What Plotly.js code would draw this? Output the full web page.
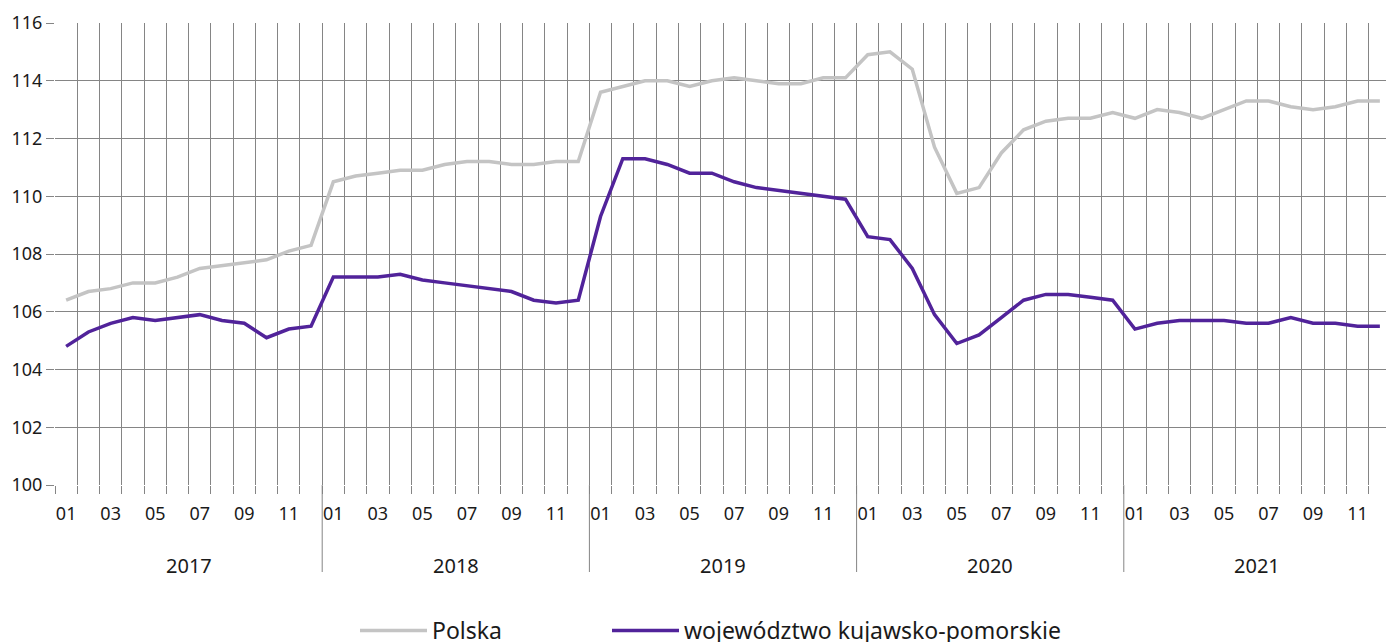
<!DOCTYPE html>
<html><head><meta charset="utf-8">
<script src="https://cdn.plot.ly/plotly-3.0.1.min.js"></script>
<style>html,body{margin:0;padding:0;overflow:hidden;background:#fff}#chart{width:1392px;height:680px}</style>
</head><body><div id="chart"></div><script>
const years = ["2017","2018","2019","2020","2021"];
const monthLabels = ["01","02","03","04","05","06","07","08","09","10","11","12"];
const polska = [
 106.4,106.7,106.8,107.0,107.0,107.2,107.5,107.6,107.7,107.8,108.1,108.3,
 110.5,110.7,110.8,110.9,110.9,111.1,111.2,111.2,111.1,111.1,111.2,111.2,
 113.6,113.8,114.0,114.0,113.8,114.0,114.1,114.0,113.9,113.9,114.1,114.1,
 114.9,115.0,114.4,111.7,110.1,110.3,111.5,112.3,112.6,112.7,112.7,112.9,
 112.7,113.0,112.9,112.7,113.0,113.3,113.3,113.1,113.0,113.1,113.3,113.3];
const kujawsko = [
 104.8,105.3,105.6,105.8,105.7,105.8,105.9,105.7,105.6,105.1,105.4,105.5,
 107.2,107.2,107.2,107.3,107.1,107.0,106.9,106.8,106.7,106.4,106.3,106.4,
 109.3,111.3,111.3,111.1,110.8,110.8,110.5,110.3,110.2,110.1,110.0,109.9,
 108.6,108.5,107.5,105.9,104.9,105.2,105.8,106.4,106.6,106.6,106.5,106.4,
 105.4,105.6,105.7,105.7,105.7,105.6,105.6,105.8,105.6,105.6,105.5,105.5];
const seriesNames = ["Polska","województwo kujawsko-pomorskie"];

const categories = [];
const tickText = [];
years.forEach(y => monthLabels.forEach((m, i) => {
  categories.push(y + "-" + m);
  tickText.push(i % 2 === 0 ? m : "");
}));

const plotTop = 23, plotBottom = 485, plotH = plotBottom - plotTop;
const plotLeft = 55, plotW = 1336;
const toPaper = py => (plotBottom - py) / plotH;
const toPaperX = px => (px - plotLeft) / plotW;

const annotations = years.map((y, k) => ({
  text: y, xref: "x", yref: "paper", x: k * 12 + 5.5, y: toPaper(565),
  xanchor: "center", yanchor: "middle", showarrow: false,
  font: {family: "Noto Sans", size: 20, color: "#1a1a1a"}
}));
const shapes = years.slice(1).map((y, k) => ({
  type: "line", xref: "x", yref: "paper", x0: (k + 1) * 12 - 0.5, x1: (k + 1) * 12 - 0.5,
  y0: 0, y1: toPaper(572), line: {color: "#858585", width: 1}
}));

const traces = [
  {x: categories, y: polska, name: seriesNames[0], type: "scatter", mode: "lines",
   line: {color: "#c4c4c4", width: 3.5}, legend: "legend"},
  {x: categories, y: kujawsko, name: seriesNames[1], type: "scatter", mode: "lines",
   line: {color: "#51239a", width: 3.5}, legend: "legend2"}
];

const legendBase = {orientation: "h", xanchor: "left", yanchor: "top", y: toPaper(609),
  font: {family: "Noto Sans", size: 23, color: "#1a1a1a"}, itemwidth: 67, bgcolor: "rgba(0,0,0,0)"};

const layout = {
  width: 1392, height: 680,
  margin: {l: plotLeft, r: 1, t: plotTop, b: 680 - plotBottom},
  paper_bgcolor: "#fff", plot_bgcolor: "#fff",
  font: {family: "Noto Sans", size: 18, color: "#1a1a1a"},
  showlegend: true,
  legend: Object.assign({}, legendBase, {x: toPaperX(355)}),
  legend2: Object.assign({}, legendBase, {x: toPaperX(607)}),
  xaxis: {type: "category", range: [-0.5, 59.5], tickson: "boundaries",
          tickvals: categories, ticktext: tickText, tickangle: 0,
          showgrid: true, gridcolor: "#858585", gridwidth: 1,
          ticks: "outside", ticklen: 8, tickcolor: "#858585", ticklabelstandoff: 16,
          showline: false, zeroline: false, fixedrange: true},
  yaxis: {range: [100, 116], dtick: 2, tick0: 100, showgrid: true, gridcolor: "#858585", gridwidth: 1,
          ticks: "outside", ticklen: 8, tickcolor: "#858585", zeroline: false, showline: false,
          fixedrange: true},
  annotations: annotations, shapes: shapes
};
Plotly.newPlot("chart", traces, layout, {displayModeBar: false, staticPlot: true});
</script></body></html>
